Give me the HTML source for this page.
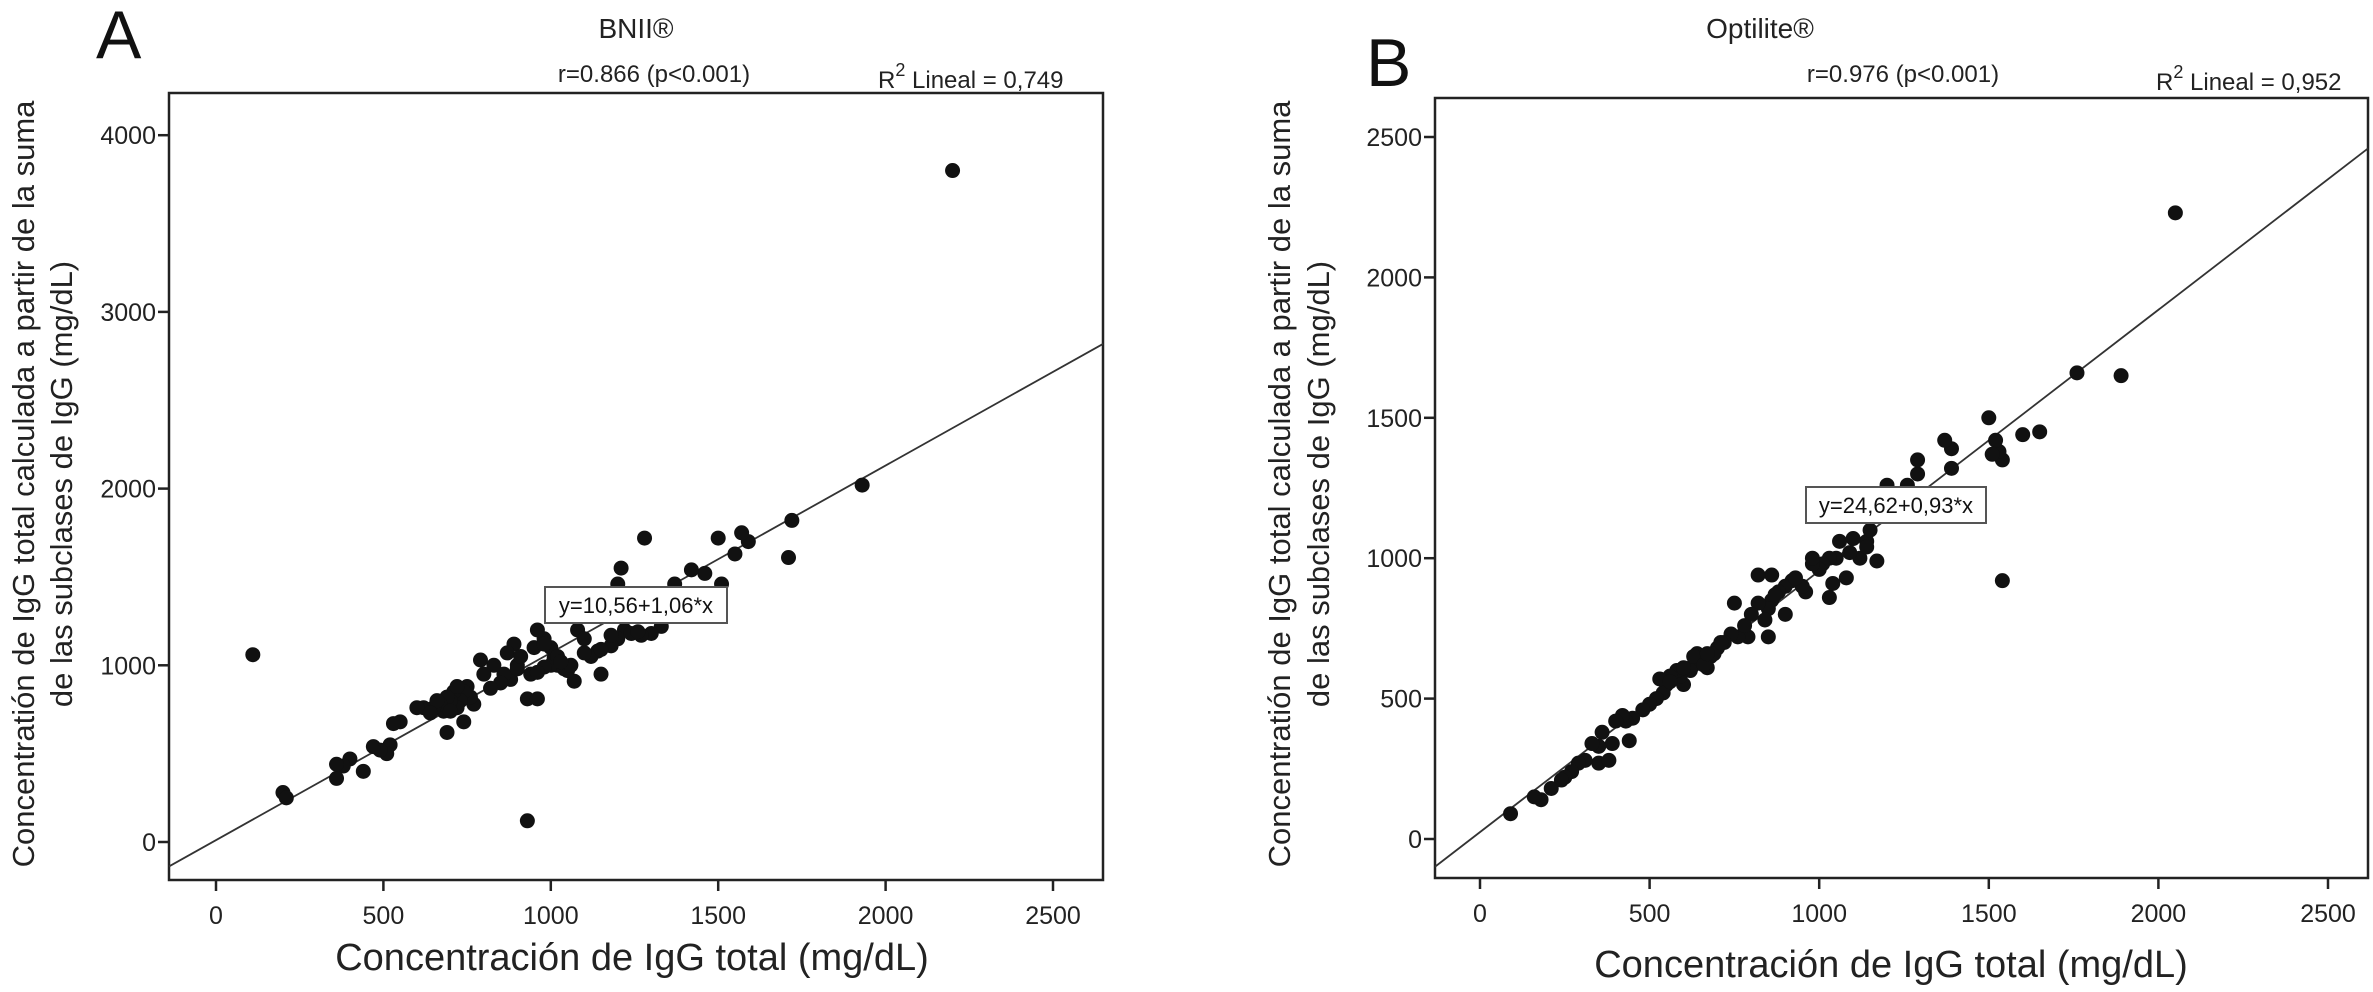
<!DOCTYPE html>
<html><head><meta charset="utf-8"><style>
html,body{margin:0;padding:0;background:#fff;}
svg{display:block;font-family:"Liberation Sans",Arial,sans-serif;}
</style></head><body>
<svg id="fig" width="2373" height="992" viewBox="0 0 2373 992" xmlns="http://www.w3.org/2000/svg"></svg>
<script>
const ticksA_x=[0,500,1000,1500,2000,2500];
const ticksA_y=[0,1000,2000,3000,4000];
const ticksB_x=[0,500,1000,1500,2000,2500];
const ticksB_y=[0,500,1000,1500,2000,2500];
const fitA=[10.56,1.06];
const fitB=[24.62,0.93];
const xA=[2200,1930,1720,1710,1590,1570,1550,1500,1510,1460,1420,1370,1330,1300,1280,1270,1210,1200,1220,1200,1180,1210,1140,1150,1120,1100,1080,1070,1050,1020,1010,1000,980,960,950,940,930,960,900,890,880,870,860,850,830,790,770,760,750,740,730,720,710,700,690,680,670,690,740,650,620,600,550,530,520,510,490,470,440,400,380,360,360,200,210,110,930,1000,1020,1040,900,910,980,1060,800,820,1240,1260,1180,1150,1100,700,720,660,640,1030,960,980];
const yA=[3800,2020,1820,1610,1700,1750,1630,1720,1460,1520,1540,1460,1220,1180,1720,1170,1550,1460,1200,1150,1110,1280,1080,950,1050,1070,1200,910,970,1000,1040,1100,1150,1200,1100,950,810,810,1000,1120,920,1070,950,900,1000,1030,780,820,880,850,800,760,850,800,820,740,780,620,680,760,760,760,680,670,550,500,520,540,400,470,430,360,440,280,250,1060,120,1000,1050,980,980,1050,990,1000,950,870,1180,1190,1170,1090,1150,740,880,800,730,1020,960,1120];
const xB=[2050,1890,1760,1650,1600,1540,1540,1530,1520,1500,1510,1390,1390,1370,1290,1290,1260,1200,1170,1140,1150,1120,1090,1080,1060,1050,1040,1030,1030,1010,1000,980,960,950,920,900,900,880,860,860,850,850,840,820,820,800,790,760,750,740,720,700,680,670,650,640,630,620,600,590,580,560,550,540,530,520,500,480,450,430,420,400,390,360,350,350,330,310,290,270,250,240,210,180,160,90,440,380,630,660,690,710,780,870,930,1100,1140,980,560,600,670];
const yB=[2230,1650,1660,1450,1440,920,1350,1380,1420,1500,1370,1320,1390,1420,1300,1350,1260,1260,990,1060,1100,1000,1020,930,1060,1000,910,860,1000,980,960,980,880,900,920,900,800,880,940,850,820,720,780,940,840,800,720,720,840,730,700,680,650,610,640,660,620,600,550,580,600,580,550,520,570,500,480,460,430,420,440,420,340,380,330,270,340,280,270,240,220,210,180,140,150,90,350,280,650,620,660,700,760,870,930,1070,1040,1000,560,610,660];

const NS="http://www.w3.org/2000/svg";
const svg=document.getElementById('fig');
function mk(tag,attrs,parent){const e=document.createElementNS(NS,tag);for(const k in attrs)e.setAttribute(k,attrs[k]);(parent||svg).appendChild(e);return e;}
function txt(s,attrs,parent){const e=mk('text',attrs,parent);e.textContent=s;return e;}

function panel(cfg){
  const g=mk('g',{});
  
  
  const sx=v=>cfg.x0+v*cfg.kx, sy=v=>cfg.y0-v*cfg.ky;
  const box=mk('rect',{x:cfg.L,y:cfg.T,width:cfg.R-cfg.L,height:cfg.B-cfg.T,fill:'none',stroke:'#222','stroke-width':2.5},g);
  
  
  cfg.tx.forEach(t=>{
    const l=mk('line',{x1:sx(t),x2:sx(t),y1:cfg.B,y2:cfg.B+11,stroke:'#222','stroke-width':2.5},g);
    
    
    const tl=txt(String(t),{x:sx(t),y:cfg.B+44,'font-size':25,'text-anchor':'middle',fill:'#222'},g);
    
    
  });
  cfg.ty.forEach(t=>{
    const l=mk('line',{x1:cfg.L-11,x2:cfg.L,y1:sy(t),y2:sy(t),stroke:'#222','stroke-width':2.5},g);
    
    
    const tl=txt(String(t),{x:cfg.L-13,y:sy(t)+9,'font-size':25,'text-anchor':'end',fill:'#222'},g);
    
    
  });
  const xa=(cfg.L-cfg.x0)/cfg.kx, xb=(cfg.R-cfg.x0)/cfg.kx;
  const fl=mk('line',{x1:cfg.L,y1:sy(cfg.fit[0]+cfg.fit[1]*xa),x2:cfg.R,y2:sy(cfg.fit[0]+cfg.fit[1]*xb),stroke:'#333','stroke-width':1.8},g);
  
  
  cfg.xs.forEach((v,i)=>{
    const c=mk('circle',{cx:sx(v),cy:sy(cfg.ys[i]),r:7.5,fill:'#111'},g);
    
    
  });
  const eb=mk('rect',{x:cfg.eq[0],y:cfg.eq[1],width:cfg.eq[2],height:36,fill:'#fff',stroke:'#555','stroke-width':2},g);
  
  
  const et=txt(cfg.eqText,{x:cfg.eq[0]+cfg.eq[2]/2,y:cfg.eq[1]+26,'font-size':22,'text-anchor':'middle',fill:'#111'},g);
  
  
}

panel({id:'a',L:169,R:1103,T:93,B:880,x0:216,kx:167.4/500,y0:842,ky:176.7/1000,tx:ticksA_x,ty:ticksA_y,xs:xA,ys:yA,fit:fitA,eq:[545,587,182],eqText:'y=10,56+1,06*x'});
panel({id:'b',L:1435,R:2368,T:98,B:878,x0:1480,kx:169.6/500,y0:839,ky:140.4/500,tx:ticksB_x,ty:ticksB_y,xs:xB,ys:yB,fit:fitB,eq:[1806,487,180],eqText:'y=24,62+0,93*x'});

function label(s,attrs,name){const e=txt(s,attrs);return e;}
label('A',{x:96,y:58,'font-size':68,fill:'#111'},'panel-a-letter');
label('BNII®',{x:636,y:38,'font-size':28,'text-anchor':'middle',fill:'#222'},'panel-a-title');
label('r=0.866 (p<0.001)',{x:654,y:82,'font-size':24,'text-anchor':'middle',fill:'#222'},'panel-a-correlation');
const ra=label('',{x:878,y:88,'font-size':24,fill:'#222'},'panel-a-r-squared');
ra.innerHTML='R<tspan dy="-12" font-size="18">2</tspan><tspan dy="12"> Lineal = 0,749</tspan>';
label('Concentratión de IgG total calculada a partir de la suma',{transform:'translate(34,484) rotate(-90)','font-size':31,'text-anchor':'middle',fill:'#222'},'panel-a-y-axis-title-line1');
label('de las subclases de IgG (mg/dL)',{transform:'translate(72,484) rotate(-90)','font-size':31,'text-anchor':'middle',fill:'#222'},'panel-a-y-axis-title-line2');
label('Concentración de IgG total (mg/dL)',{x:632,y:970,'font-size':38,'text-anchor':'middle',fill:'#222'},'panel-a-x-axis-title');

label('B',{x:1366,y:86,'font-size':68,fill:'#111'},'panel-b-letter');
label('Optilite®',{x:1760,y:38,'font-size':28,'text-anchor':'middle',fill:'#222'},'panel-b-title');
label('r=0.976 (p<0.001)',{x:1903,y:82,'font-size':24,'text-anchor':'middle',fill:'#222'},'panel-b-correlation');
const rb=label('',{x:2156,y:90,'font-size':24,fill:'#222'},'panel-b-r-squared');
rb.innerHTML='R<tspan dy="-12" font-size="18">2</tspan><tspan dy="12"> Lineal = 0,952</tspan>';
label('Concentratión de IgG total calculada a partir de la suma',{transform:'translate(1290,484) rotate(-90)','font-size':31,'text-anchor':'middle',fill:'#222'},'panel-b-y-axis-title-line1');
label('de las subclases de IgG (mg/dL)',{transform:'translate(1329,484) rotate(-90)','font-size':31,'text-anchor':'middle',fill:'#222'},'panel-b-y-axis-title-line2');
label('Concentración de IgG total (mg/dL)',{x:1891,y:977,'font-size':38,'text-anchor':'middle',fill:'#222'},'panel-b-x-axis-title');
</script>
</body></html>
